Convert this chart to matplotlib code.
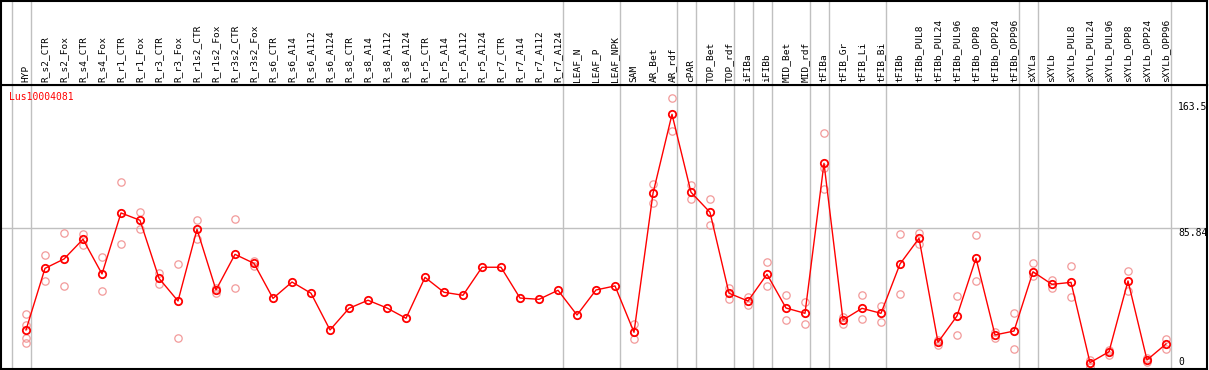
import matplotlib
matplotlib.use('Agg')
import matplotlib.pyplot as plt
import matplotlib.transforms as mtransforms

gene = 'Lus10004081'

samples = ['HYP', 'R_s2_CTR', 'R_s2_Fox', 'R_s4_CTR', 'R_s4_Fox', 'R_r1_CTR', 'R_r1_Fox',
           'R_r3_CTR', 'R_r3_Fox', 'R_r1s2_CTR', 'R_r1s2_Fox', 'R_r3s2_CTR', 'R_r3s2_Fox',
           'R_s6_CTR', 'R_s6_A14', 'R_s6_A112', 'R_s6_A124', 'R_s8_CTR', 'R_s8_A14',
           'R_s8_A112', 'R_s8_A124', 'R_r5_CTR', 'R_r5_A14', 'R_r5_A112', 'R_r5_A124',
           'R_r7_CTR', 'R_r7_A14', 'R_r7_A112', 'R_r7_A124', 'LEAF_N', 'LEAF_P', 'LEAF_NPK',
           'SAM', 'AR_Bet', 'AR_rdf', 'cPAR', 'TOP_Bet', 'TOP_rdf', 'iFIBa', 'iFIBb',
           'MID_Bet', 'MID_rdf', 'tFIBa', 'tFIB_Gr', 'tFIB_Li', 'tFIB_Bi', 'tFIBb',
           'tFIBb_PUL8', 'tFIBb_PUL24', 'tFIBb_PUL96', 'tFIBb_OPP8', 'tFIBb_OPP24',
           'tFIBb_OPP96', 'sXYLa', 'sXYLb', 'sXYLb_PUL8', 'sXYLb_PUL24', 'sXYLb_PUL96',
           'sXYLb_OPP8', 'sXYLb_OPP24', 'sXYLb_OPP96']

means = [20.4, 60.0, 66.0, 78.7, 56.4, 95.6, 90.9, 53.6, 39.0, 85.1, 46.1, 69.0, 63.2,
         40.7, 51.2, 44.0, 20.4, 34.3, 39.5, 34.5, 27.9, 54.2, 44.6, 42.7, 60.7, 60.7,
         40.9, 40.1, 45.9, 30.0, 46.1, 48.7,
         18.9, 108.2, 159.0, 108.9, 96.0, 44.0, 39.0, 56.2, 34.5, 31.1, 127.5, 26.8,
         34.3, 31.1, 62.8,
         79.3, 12.5, 29.4, 66.5, 17.2, 19.7, 57.8, 49.7, 51.0, -0.6, 6.4, 51.9, 1.1, 11.4]

replicates = [[30.5, 23.6, 15.0, 12.2], [68.4, 51.7], [82.5, 48.7], [82.1, 75.2],
              [67.1, 45.2], [115.3, 75.4], [96.2, 85.1], [57.2, 50.1], [62.6, 15.0],
              [91.1, 78.7], [47.6, 44.0], [91.5, 47.4], [64.9, 61.5],
              [], [], [], [], [], [], [], [], [], [], [], [], [], [], [], [], [], [], [],
              [24.2, 14.4], [114.2, 101.8], [169.3, 148.1], [113.6, 104.4], [104.4, 87.7],
              [47.6, 40.1], [41.4, 36.4], [64.1, 48.5], [42.7, 26.6], [38.2, 24.0],
              [146.8, 124.3, 111.0], [28.5, 24.0], [42.7, 27.2], [35.8, 25.7], [82.1, 43.3],
              [82.9, 75.6], [13.9, 10.7], [42.0, 17.2], [81.2, 51.7], [18.9, 15.0],
              [31.1, 8.0], [63.2, 55.3], [52.5, 47.2], [61.3, 41.6], [1.1, -3.2],
              [7.5, 4.3], [58.3, 45.6], [2.2, 0.0], [14.6, 8.0]]

y_labels = [163.5, 85.84, 0]
separators = [-1, 0, 28, 31, 34, 35, 37, 38, 39, 41, 42, 45, 52, 53, 60]

W, H = 1209, 370
mono = 'DejaVu Sans Mono'
fig = plt.figure(figsize=(W / 100, H / 100), dpi=100)

# pixel layout: points at x = 26 + 19*i, value 0 at y=361.7, 1.556 px per unit
xlim = ((1 - 26) / 19, (1207 - 26) / 19)
ylim = ((361.7 - 369) / 1.556, (361.7 - 85) / 1.556)

ax = fig.add_axes([1 / W, 1 - 369 / H, 1206 / W, 284 / H])
hax = fig.add_axes([1 / W, 1 - 85 / H, 1206 / W, 84.5 / H])

for a in (ax, hax):
    a.set_xlim(xlim)
    a.set_xticks([])
    a.set_yticks([])
    for s in a.spines.values():
        s.set_color('black')
        s.set_linewidth(1.5)
    for sep in separators:
        a.axvline(sep + 0.24, color='#c0c0c0', lw=1, zorder=0)

hax.set_ylim(0, 1)
for i, name in enumerate(samples):
    hax.text(i, 0.035, name, rotation=90, ha='center', va='bottom',
             family=mono, fontsize=6.8)

ax.set_ylim(ylim)
ax.axhline(y_labels[1], color='#c0c0c0', lw=1, zorder=0)

xs = []
ys = []
for i, r in enumerate(replicates):
    for v in r:
        xs.append(i)
        ys.append(v)
ax.plot(xs, ys, 'o', ls='none', mfc='none', mec='#f29a9a', ms=5.3, mew=0.9, zorder=2)
ax.plot(range(len(means)), means, '-', color='red', lw=1, zorder=3)
ax.plot(range(len(means)), means, 'o', ls='none', mfc='none', mec='red', ms=5.3,
        mew=1.3, zorder=4)

trans = mtransforms.blended_transform_factory(ax.transAxes, ax.transData)
for v in y_labels:
    va = 'top' if v == y_labels[1] else 'center'
    ax.text(0.976, v, f'{v:g}', transform=trans, ha='left', va=va,
            family=mono, fontsize=7)

ax.text(8 / 1206, 1 - 12 / 284, gene, transform=ax.transAxes, color='red',
        ha='left', va='center', family=mono, fontsize=7)

fig.savefig('out.png', dpi=100)
